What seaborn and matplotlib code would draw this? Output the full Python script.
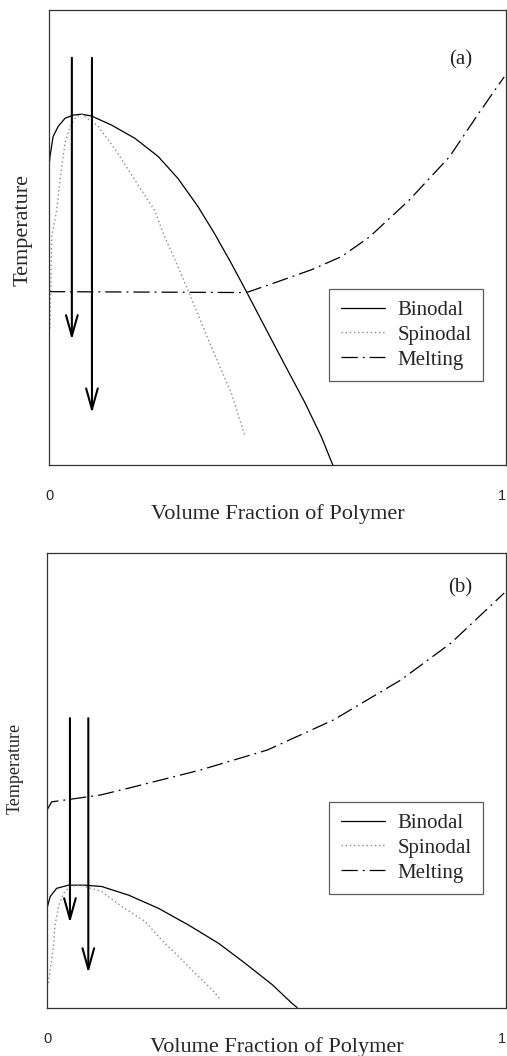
import pandas as pd
import matplotlib.pyplot as plt
import seaborn as sns

# ==============================================================================
# DATA (arbitrary temperature units 0..1)
# ==============================================================================

# --- panel (a) ---
binodal_a_x = [0.000, 0.002, 0.009, 0.020, 0.035, 0.053, 0.071, 0.093, 0.137, 0.188, 0.239,
               0.282, 0.326, 0.362, 0.399, 0.432, 0.472, 0.515, 0.559, 0.596, 0.621]
binodal_a_y = [0.655, 0.677, 0.722, 0.744, 0.762, 0.769, 0.771, 0.767, 0.747, 0.718, 0.678,
               0.630, 0.568, 0.509, 0.443, 0.381, 0.304, 0.222, 0.139, 0.062, 0.000]

spinodal_a_x = [0.002, 0.006, 0.017, 0.024, 0.035, 0.046, 0.059, 0.071, 0.108, 0.148, 0.195,
                0.231, 0.250, 0.282, 0.319, 0.355, 0.399, 0.428]
spinodal_a_y = [0.300, 0.502, 0.560, 0.626, 0.707, 0.744, 0.765, 0.771, 0.744, 0.689, 0.615,
                0.560, 0.509, 0.436, 0.348, 0.260, 0.158, 0.066]

melting_a_x = [0.000, 0.432, 0.501, 0.574, 0.640, 0.701, 0.788, 0.876, 0.941, 0.996]
melting_a_y = [0.381, 0.379, 0.403, 0.429, 0.458, 0.501, 0.582, 0.677, 0.774, 0.853]

arrow_a_x = [0.050, 0.094]
arrow_a_start = [0.895, 0.895]
arrow_a_end = [0.275, 0.114]

# --- panel (b) ---
binodal_b_x = [0.000, 0.007, 0.021, 0.047, 0.083, 0.119, 0.178, 0.243, 0.309, 0.374, 0.432,
               0.491, 0.534, 0.545]
binodal_b_y = [0.219, 0.245, 0.263, 0.270, 0.270, 0.267, 0.248, 0.219, 0.182, 0.142, 0.098,
               0.051, 0.010, 0.001]

spinodal_b_x = [0.003, 0.014, 0.017, 0.025, 0.036, 0.050, 0.072, 0.119, 0.163, 0.214, 0.250,
                0.287, 0.323, 0.360, 0.378]
spinodal_b_y = [0.055, 0.135, 0.179, 0.223, 0.252, 0.267, 0.270, 0.256, 0.223, 0.190, 0.149,
                0.113, 0.076, 0.040, 0.018]

melting_b_x = [0.000, 0.010, 0.116, 0.181, 0.334, 0.480, 0.624, 0.771, 0.880, 0.996]
melting_b_y = [0.435, 0.453, 0.468, 0.484, 0.523, 0.567, 0.633, 0.721, 0.802, 0.912]

arrow_b_x = [0.050, 0.090]
arrow_b_start = [0.637, 0.637]
arrow_b_end = [0.187, 0.077]

curve_names = ['Binodal', 'Spinodal', 'Melting']
x_tick_values = [0, 1]
x_tick_labels = ['0', '1']

# ==============================================================================
# PLOTTING
# ==============================================================================

sns.set_style('white')
plt.rcParams['font.family'] = ['Liberation Serif', 'DejaVu Serif']

SERIF = 'Liberation Serif'
SANS = 'Liberation Sans'


def build_frame(bx, by, sx, sy, mx, my):
    """Long-format frame with one block per curve."""
    parts = []
    for name, xs, ys in zip(curve_names, [bx, sx, mx], [by, sy, my]):
        parts.append(pd.DataFrame({'phi': xs, 'T': ys, 'curve': name}))
    return pd.concat(parts, ignore_index=True)


def draw_panel(ax, df, arrow_x, arrow_start, arrow_end, tag, legend_anchor, tag_pos):
    styles = {
        'Binodal': dict(color='black', lw=0.9, ls='-'),
        'Spinodal': dict(color='#8a8a8a', lw=1.0, ls=(0, (1, 2))),
        'Melting': dict(color='black', lw=0.9, ls=(0, (13, 4, 1.5, 4))),
    }
    for name in curve_names:
        sub = df[df['curve'] == name]
        sns.lineplot(data=sub, x='phi', y='T', ax=ax, sort=False, estimator=None,
                     label=name, solid_joinstyle='round', dash_joinstyle='round',
                     **styles[name])

    # quench arrows
    for x, y0, y1 in zip(arrow_x, arrow_start, arrow_end):
        ax.annotate('', xy=(x, y1), xytext=(x, y0),
                    arrowprops=dict(arrowstyle='->,head_length=1.5,head_width=0.42',
                                    lw=1.5, color='black', shrinkA=0, shrinkB=0,
                                    mutation_scale=10))

    ax.set_xlim(0, 1)
    ax.set_ylim(0, 1)
    ax.set_xticks(x_tick_values)
    ax.set_xticklabels(x_tick_labels, fontfamily=SANS, fontsize=10.5)
    ax.get_xticklabels()[-1].set_ha('right')
    ax.set_yticks([])
    ax.tick_params(axis='x', length=0, pad=17)

    for side in ['left', 'right', 'top', 'bottom']:
        ax.spines[side].set_visible(True)
        ax.spines[side].set_color('#333333')
        ax.spines[side].set_linewidth(0.9)

    ax.set_xlabel('Volume Fraction of Polymer', fontsize=16, fontfamily=SERIF)
    ax.set_ylabel('Temperature', fontsize=16, fontfamily=SERIF)

    ax.text(tag_pos[0], tag_pos[1], tag, transform=ax.transAxes, fontsize=15,
            fontfamily=SERIF, ha='center', va='center')

    leg = ax.legend(loc='upper right', bbox_to_anchor=legend_anchor, fontsize=15,
                    frameon=True, fancybox=False, edgecolor='#333333',
                    handlelength=2.15, handletextpad=0.58, borderpad=0.55,
                    labelspacing=0.25, borderaxespad=0)
    leg.get_frame().set_linewidth(0.9)
    for t in leg.get_texts():
        t.set_fontfamily(SERIF)


fig = plt.figure(figsize=(5.07, 10.56), dpi=100)
ax_a = fig.add_axes([49 / 507, 1 - 465 / 1056, 457 / 507, 455 / 1056])
ax_b = fig.add_axes([47 / 507, 1 - 1008 / 1056, 459 / 507, 455 / 1056])

df_a = build_frame(binodal_a_x, binodal_a_y, spinodal_a_x, spinodal_a_y, melting_a_x, melting_a_y)
df_b = build_frame(binodal_b_x, binodal_b_y, spinodal_b_x, spinodal_b_y, melting_b_x, melting_b_y)

draw_panel(ax_a, df_a, arrow_a_x, arrow_a_start, arrow_a_end, '(a)', (0.95, 0.387), (0.90, 0.89))
draw_panel(ax_b, df_b, arrow_b_x, arrow_b_start, arrow_b_end, '(b)', (0.95, 0.453), (0.90, 0.923))

ax_a.xaxis.set_label_coords(0.5, -0.085)
ax_b.xaxis.set_label_coords(0.5, -0.064)
ax_a.yaxis.set_label_coords(-0.037, 0.516)
ax_b.yaxis.label.set_fontsize(13)
ax_b.yaxis.set_label_coords(-0.05, 0.527)

fig.savefig('out.png', dpi=100)
